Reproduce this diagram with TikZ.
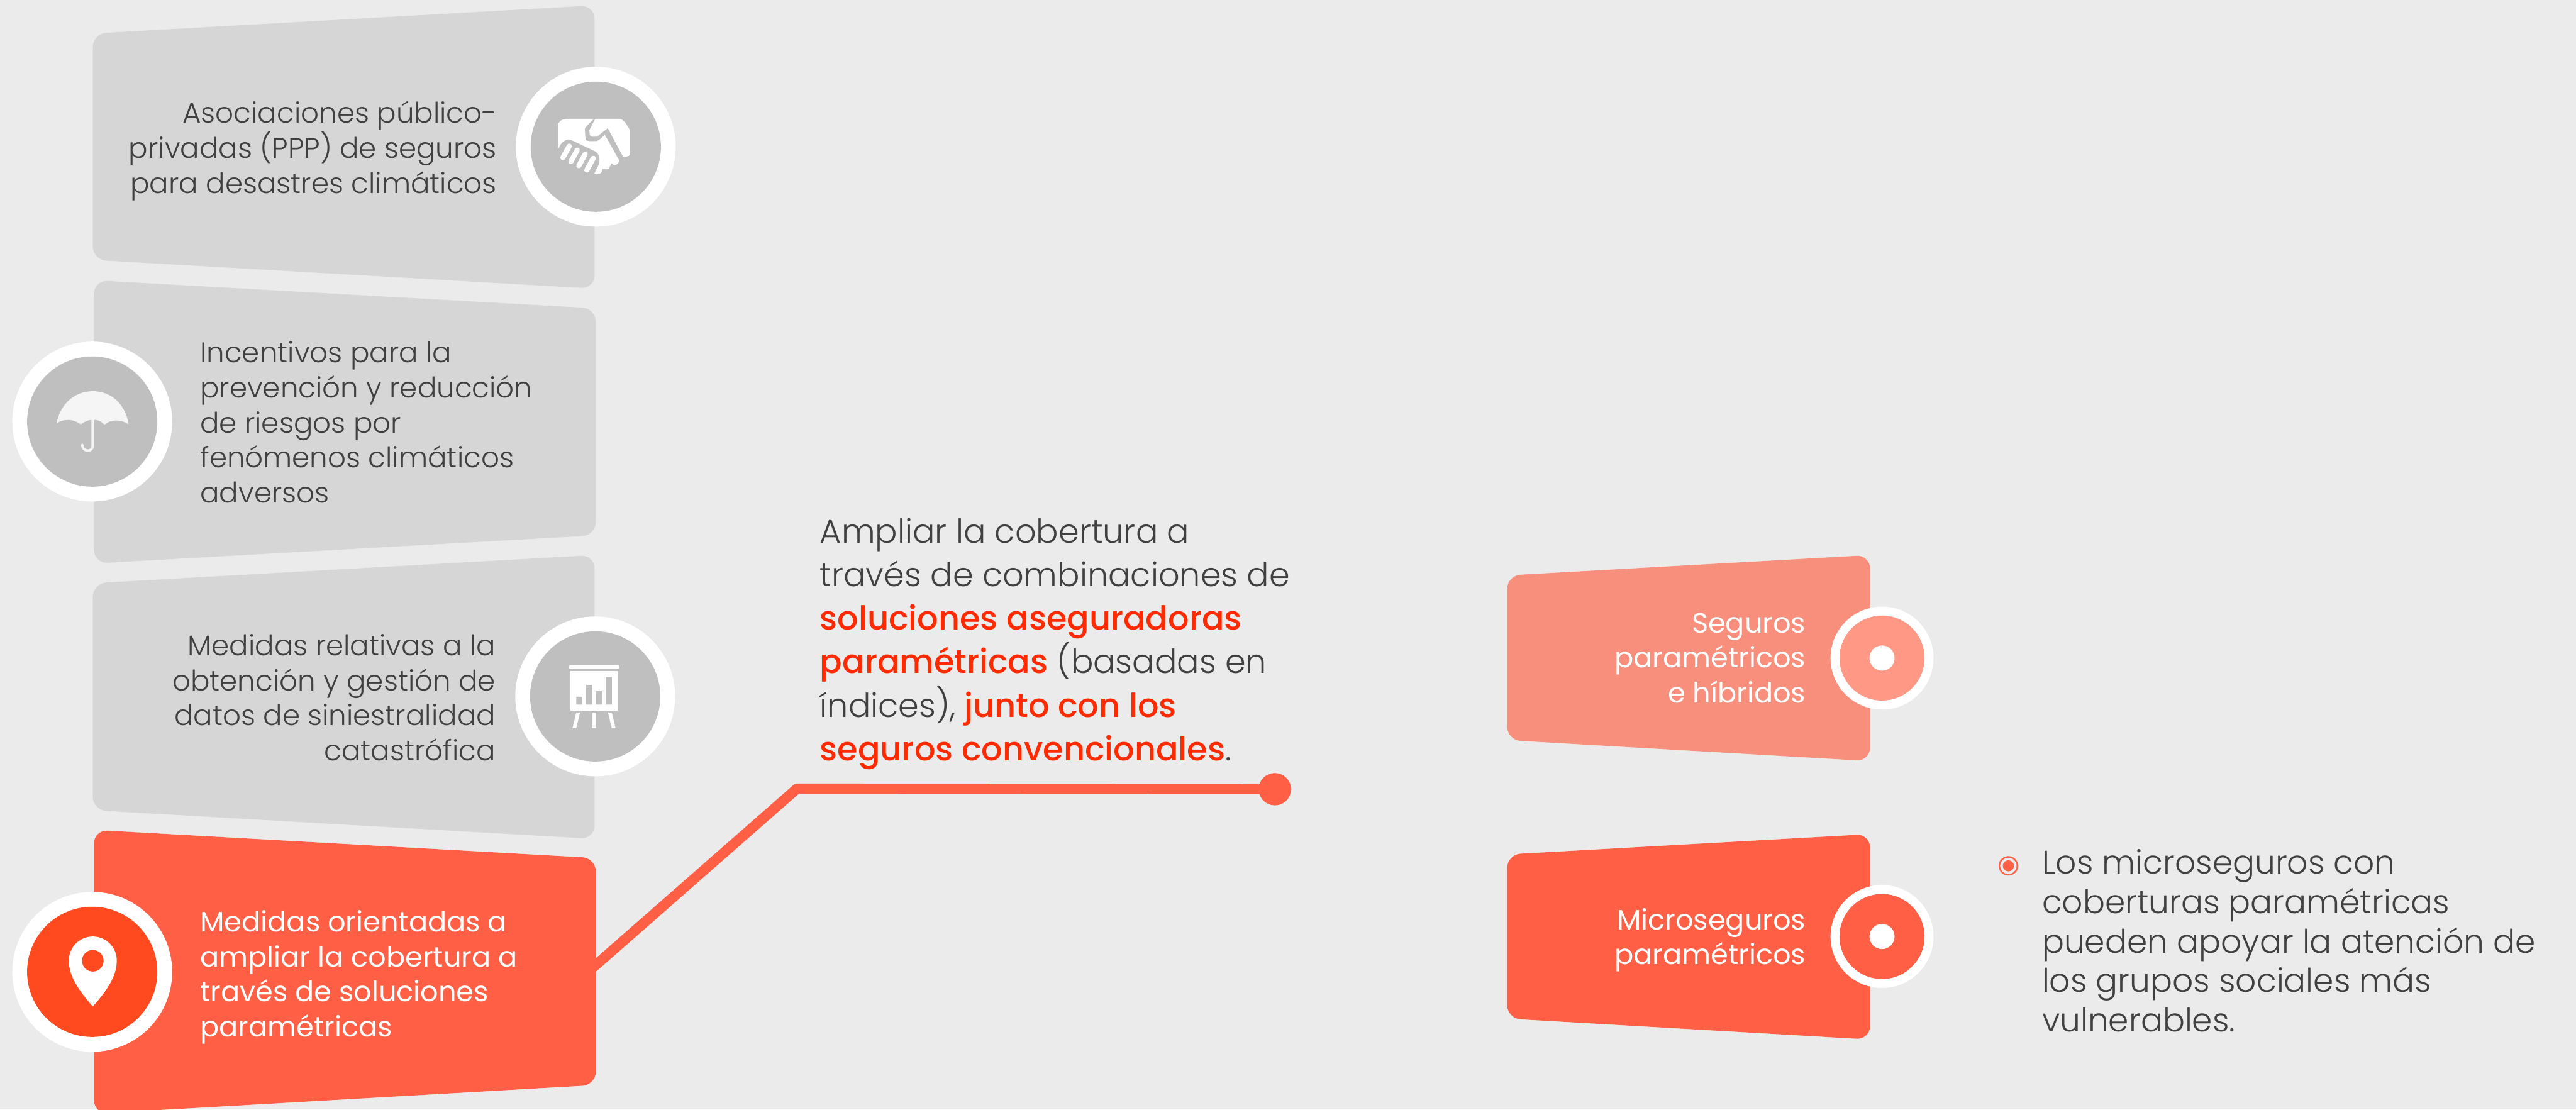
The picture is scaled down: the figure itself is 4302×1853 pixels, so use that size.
\documentclass[tikz,border=0pt]{standalone}
\usepackage{fontspec}
\setmainfont{Poppins}[UprightFont=* Light,BoldFont=* Medium]
\newfontface\medfont{Poppins Medium}
\newfontface\regfont{Poppins}
\definecolor{bgc}{HTML}{EBEBEB}
\definecolor{boxgrey}{HTML}{D6D6D6}
\definecolor{ringgrey}{HTML}{BFBFBF}
\definecolor{txt}{HTML}{404040}
\definecolor{orangebox}{HTML}{FF6045}
\definecolor{orangedeep}{HTML}{FF4A1F}
\definecolor{salmonbox}{HTML}{F88F7C}
\definecolor{salmonin}{HTML}{FF9985}
\definecolor{redtxt}{HTML}{FF2A00}
\newcommand{\hl}[1]{{\medfont\color{redtxt}#1}}
\tikzset{
 x=0.02cm,y=-0.02cm,
 slab/.style={rounded corners=0.45cm,draw=none},
 body/.style={inner sep=0pt,font=\fontsize{27}{33.2}\selectfont},
 whitebody/.style={inner sep=0pt,text=white,font=\regfont\fontsize{26.7}{33.2}\selectfont},
 bigcircle/.style={circle,fill=white,minimum size=5.34cm,inner sep=0pt},
 smallcircle/.style={circle,fill=white,minimum size=3.44cm,inner sep=0pt},
 iconzoom/.style={x=0.006667cm,y=-0.006667cm},
}
\begin{document}
\begin{tikzpicture}
\useasboundingbox (0,0) rectangle (4302,1853);
\clip (0,0) rectangle (4302,1853);
\fill[bgc] (0,0) rectangle (4302,1853);
% left slabs
\fill[slab,boxgrey] (155,56) -- (993,9) -- (993,482) -- (155,434) -- cycle;
\fill[slab,boxgrey] (157,468) -- (995,515) -- (995,894) -- (157,941) -- cycle;
\fill[slab,boxgrey] (155,974) -- (993,927) -- (993,1401) -- (155,1353) -- cycle;
% connector
\coordinate (lineStart) at (990,1616);
\coordinate (elbow) at (1331,1317);
\node[circle,fill=orangebox,minimum size=1.08cm,inner sep=0pt] (dot) at (2129,1318) {};
\draw[orangebox,line width=0.34cm,line join=round] (lineStart) -- (elbow) -- (dot.center);
\fill[slab,orangebox] (157,1386) -- (995,1433) -- (995,1812) -- (157,1860) -- cycle;
% left circles
\node[bigcircle] (c1) at (995,245) {};
\node[circle,fill=ringgrey,minimum size=4.35cm,inner sep=0pt] (c1in) at (c1) {};
\node[bigcircle] (c2) at (154,704) {};
\node[circle,fill=ringgrey,minimum size=4.35cm,inner sep=0pt] (c2in) at (c2) {};
\node[bigcircle] (c3) at (994,1163) {};
\node[circle,fill=ringgrey,minimum size=4.35cm,inner sep=0pt] (c3in) at (c3) {};
\node[bigcircle] (c4) at (154,1623) {};
\node[circle,fill=orangedeep,minimum size=4.35cm,inner sep=0pt] (c4in) at (c4) {};
% handshake
\begin{scope}[shift={(850,100)},iconzoom]
\fill[white] (246,450) -- (246,320) .. controls (255,305) and (270,295) .. (290,295) -- (425,295) -- (385,335) .. controls (380,340) and (380,345) .. (380,350) -- (383,392) .. controls (385,402) and (390,407) .. (398,407) -- (440,407) .. controls (450,405) and (470,385) .. (480,375) -- (550,500) .. controls (555,515) and (540,530) .. (525,527) -- (510,515) .. controls (510,540) and (495,556) .. (468,545) .. controls (470,565) and (450,582) .. (428,568) -- (445,535) .. controls (460,505) and (455,475) .. (435,460) -- (320,405) .. controls (285,390) and (260,410) .. (246,450) -- cycle;
\fill[white] (432,295) -- (545,295) .. controls (565,295) and (575,305) .. (585,318) -- (605,350) -- (605,478) .. controls (595,484) and (585,486) .. (572,486) -- (495,342) -- (440,385) -- (420,385) -- (405,378) -- (403,352) -- cycle;
\draw[white,line width=4.9pt,line cap=round] (302,432) -- (270,490) (342,452) -- (310,510) (382,472) -- (350,530) (422,493) -- (390,552);
\end{scope}
% umbrella
\begin{scope}[shift={(20,570)},iconzoom]
\fill[white!96!black] (224,410) .. controls (240,320) and (310,250) .. (405,250) .. controls (500,250) and (570,320) .. (584,415) .. controls (545,390) and (495,390) .. (463,417) .. controls (440,395) and (425,393) .. (404,393) .. controls (385,393) and (365,400) .. (345,416) .. controls (310,390) and (265,385) .. (224,410) -- cycle;
\draw[white!96!black,line width=2.3pt,line cap=round] (404,390) -- (404,525) .. controls (404,556) and (352,556) .. (352,518);
\end{scope}
% chart
\begin{scope}[shift={(860,1030)},iconzoom]
\fill[white,rounded corners=0.06cm] (268,243) rectangle (524,262);
\fill[white] (277,272) rectangle (515,470);
\fill[ringgrey] (307,401) rectangle (337,440) (357,342) rectangle (387,440) (406,372) rectangle (436,440) (455,302) rectangle (485,440);
\fill[white] (307,480) -- (326,480) -- (307,558) -- (288,558) -- cycle;
\fill[white] (386,480) rectangle (406,558);
\fill[white] (466,480) -- (485,480) -- (504,558) -- (485,558) -- cycle;
\end{scope}
% pin
\fill[white] (155,1681) .. controls (130,1652) and (115,1630) .. (115,1604) .. controls (115,1582) and (133,1564) .. (155,1564) .. controls (177,1564) and (195,1582) .. (195,1604) .. controls (195,1630) and (180,1652) .. (155,1681) -- cycle;
\fill[orangedeep] (155,1604.5) circle (0.36cm);
% left texts
\node[body,text=txt,align=right,anchor=east] (t1) at (830,252) {Asociaciones público-\\privadas (PPP) de seguros\\para desastres climáticos};
\node[body,text=txt,align=left,anchor=west] (t2) at (334,705) {Incentivos para la\\prevención y reducción\\de riesgos por\\fenómenos climáticos\\adversos};
\node[body,text=txt,align=right,anchor=east] (t3) at (828,1165) {Medidas relativas a la\\obtención y gestión de\\datos de siniestralidad\\catastrófica};
\node[whitebody,align=left,anchor=west] (t4) at (334,1632) {Medidas orientadas a\\ampliar la cobertura a\\través de soluciones\\paramétricas};
% centre text
\node[inner sep=0pt,text=txt,align=left,anchor=west,font=\fontsize{31.4}{41.4}\selectfont] (tc) at (1369,1075) {Ampliar la cobertura a\\través de combinaciones de\\\hl{soluciones aseguradoras}\\\hl{paramétricas} (basadas en\\índices), \hl{junto con los}\\\hl{seguros convencionales}.};
% right slabs
\fill[slab,salmonbox] (2517,961) -- (3123,927) -- (3123,1271) -- (2517,1236) -- cycle;
\fill[slab,orangebox] (2517,1427) -- (3123,1393) -- (3123,1736) -- (2517,1701) -- cycle;
\node[smallcircle] (r1) at (3143,1099) {};
\node[circle,fill=salmonin,minimum size=2.84cm,inner sep=0pt] (r1in) at (r1) {};
\node[circle,fill=white,minimum size=0.84cm,inner sep=0pt] (r1dot) at (r1) {};
\node[smallcircle] (r2) at (3143,1564) {};
\node[circle,fill=orangebox,minimum size=2.84cm,inner sep=0pt] (r2in) at (r2) {};
\node[circle,fill=white,minimum size=0.84cm,inner sep=0pt] (r2dot) at (r2) {};
\node[whitebody,align=right,anchor=east] (t5) at (3016,1099) {Seguros\\paramétricos\\e híbridos};
\node[whitebody,align=right,anchor=east] (t6) at (3016,1570) {Microseguros\\paramétricos};
% bullet
\node[circle,draw=orangebox,line width=0.05cm,minimum size=0.6cm,inner sep=0pt] (bul) at (3354,1446) {};
\node[circle,fill=orangebox,minimum size=0.37cm,inner sep=0pt] (bulin) at (bul) {};
\node[inner sep=0pt,text=txt,align=left,anchor=west,font=\fontsize{31}{37.4}\selectfont] (t7) at (3410,1571) {Los microseguros con\\coberturas paramétricas\\pueden apoyar la atención de\\los grupos sociales más\\vulnerables.};
\end{tikzpicture}
\end{document}
